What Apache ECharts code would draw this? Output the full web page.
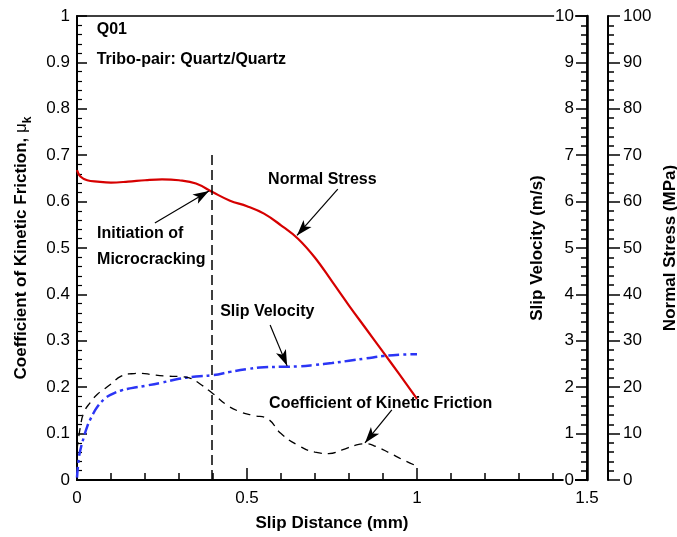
<!DOCTYPE html>
<html>
<head>
<meta charset="utf-8">
<script src="https://cdn.jsdelivr.net/npm/echarts@6/dist/echarts.min.js"></script>
<style>
html, body { margin: 0; padding: 0; background: #fff; }
#chart { width: 677px; height: 537px; }
</style>
</head>
<body>
<div id="chart"></div>
<script>
// Normal stress (MPa) against slip distance (mm)
const stressDist = [0, 0.01, 0.03, 0.06, 0.1, 0.15, 0.2, 0.25, 0.3, 0.35, 0.4, 0.45, 0.5, 0.55, 0.6, 0.65, 0.7, 0.75, 0.8, 0.85, 0.9, 0.95, 1.0];
const normalStress = [66.8, 65.4, 64.6, 64.3, 64.1, 64.3, 64.6, 64.8, 64.6, 63.9, 62.0, 60.2, 59.0, 57.4, 54.9, 52.0, 47.9, 42.8, 37.6, 32.6, 27.6, 22.6, 17.5];

// Slip velocity (m/s) against slip distance (mm)
const velDist = [0, 0.005, 0.01, 0.02, 0.03, 0.04, 0.05, 0.06, 0.08, 0.1, 0.13, 0.16, 0.2, 0.25, 0.3, 0.35, 0.4, 0.45, 0.5, 0.55, 0.6, 0.65, 0.7, 0.75, 0.8, 0.85, 0.9, 0.95, 1.0];
const slipVelocity = [0.05, 0.45, 0.65, 0.92, 1.15, 1.32, 1.46, 1.58, 1.74, 1.84, 1.93, 1.98, 2.03, 2.1, 2.18, 2.23, 2.26, 2.33, 2.39, 2.43, 2.44, 2.45, 2.48, 2.52, 2.57, 2.62, 2.67, 2.70, 2.71];

// Coefficient of kinetic friction against slip distance (mm)
const fricDist = [0, 0.01, 0.02, 0.04, 0.06, 0.08, 0.1, 0.13, 0.16, 0.19, 0.22, 0.26, 0.3, 0.33, 0.36, 0.4, 0.44, 0.48, 0.52, 0.56, 0.6, 0.65, 0.7, 0.74, 0.78, 0.82, 0.85, 0.88, 0.92, 0.96, 1.0];
const kineticFriction = [0.065, 0.115, 0.145, 0.168, 0.185, 0.196, 0.207, 0.224, 0.229, 0.23, 0.227, 0.224, 0.223, 0.22, 0.208, 0.186, 0.162, 0.147, 0.139, 0.132, 0.1, 0.075, 0.06, 0.057, 0.065, 0.075, 0.078, 0.072, 0.058, 0.043, 0.03];

// Onset of microcracking (slip distance, mm) and the height of its marker line
const crackOnset = 0.397;
const crackLineTop = 0.71;

// Callout texts, anchored in (slip distance, friction coefficient) units
const notes = [
  { text: 'Q01', at: [0.058, 0.971] },
  { text: 'Tribo-pair: Quartz/Quartz', at: [0.058, 0.905] },
  { text: 'Normal Stress', at: [0.562, 0.647] },
  { text: 'Initiation of', at: [0.059, 0.532] },
  { text: 'Microcracking', at: [0.059, 0.476] },
  { text: 'Slip Velocity', at: [0.421, 0.362] },
  { text: 'Coefficient of Kinetic Friction', at: [0.565, 0.165] }
];

// Callout arrows: [from, to] in the same units
const arrows = [
  [[0.767, 0.627], [0.647, 0.527]],
  [[0.229, 0.554], [0.388, 0.623]],
  [[0.568, 0.334], [0.618, 0.246]],
  [[0.926, 0.151], [0.847, 0.080]]
];

const FONT = '"Liberation Sans", Arial, Helvetica, sans-serif';
const zip = (xs, ys) => xs.map((x, i) => [x, ys[i]]);

const chart = echarts.init(document.getElementById('chart'));

chart.setOption({
  animation: false,
  backgroundColor: '#fff',
  grid: {
    left: 77, right: 90, top: 16, bottom: 57,
    containLabel: false, outerBoundsMode: 'none',
    show: true, borderColor: '#000', borderWidth: 1.5, backgroundColor: 'transparent'
  },
  xAxis: {
    type: 'value', min: 0, max: 1.5, interval: 0.5,
    axisLine: { show: true, onZero: false, lineStyle: { color: '#000', width: 2 } },
    axisTick: { show: true, inside: true, length: 12, lineStyle: { color: '#000', width: 1.5 } },
    minorTick: { show: true, splitNumber: 5, length: 7, lineStyle: { color: '#000', width: 1.5 } },
    axisLabel: { color: '#000', fontSize: 17, fontFamily: FONT, margin: 10 },
    splitLine: { show: false },
    name: 'Slip Distance (mm)', nameLocation: 'middle', nameGap: 35,
    nameTextStyle: { color: '#000', fontSize: 17, fontWeight: 'bold', fontFamily: FONT }
  },
  yAxis: [
    {
      type: 'value', min: 0, max: 1, interval: 0.1, position: 'left',
      axisLine: { show: true, onZero: false, lineStyle: { color: '#000', width: 2 } },
      axisTick: { show: true, inside: true, length: 10, lineStyle: { color: '#000', width: 1.5 } },
      minorTick: { show: true, splitNumber: 5, length: 5, lineStyle: { color: '#000', width: 1.2 } },
      axisLabel: { color: '#000', fontSize: 17, fontFamily: FONT, margin: 7 },
      splitLine: { show: false },
      name: 'Coefficient of Kinetic Friction, {mu|μ}{k|k}',
      nameLocation: 'middle', nameGap: 43, nameRotate: 90,
      nameTextStyle: {
        color: '#000', fontSize: 17, fontWeight: 'bold', fontFamily: FONT, lineHeight: 20,
        rich: {
          mu: { fontSize: 17, fontWeight: 'normal', fontFamily: FONT, color: '#000', lineHeight: 20 },
          k: { fontSize: 12, fontWeight: 'bold', fontFamily: FONT, color: '#000', lineHeight: 25, verticalAlign: 'bottom' }
        }
      }
    },
    {
      type: 'value', min: 0, max: 10, interval: 1, position: 'right', z: 5,
      axisLine: { show: true, onZero: false, lineStyle: { color: '#000', width: 2.5 } },
      axisTick: { show: true, inside: true, length: 11, lineStyle: { color: '#000', width: 1.5 } },
      minorTick: { show: true, splitNumber: 5, length: 6, lineStyle: { color: '#000', width: 1.5 } },
      axisLabel: {
        color: '#000', fontSize: 17, fontFamily: FONT, inside: true, margin: 12,
        backgroundColor: '#fff', padding: [0, 1]
      },
      splitLine: { show: false }
    },
    {
      type: 'value', min: 0, max: 100, interval: 10, position: 'right', offset: 21,
      axisLine: { show: true, onZero: false, lineStyle: { color: '#000', width: 2 } },
      axisTick: { show: true, inside: false, length: 12, lineStyle: { color: '#000', width: 1.5 } },
      minorTick: { show: true, splitNumber: 5, length: 6, lineStyle: { color: '#000', width: 1.5 } },
      axisLabel: { color: '#000', fontSize: 17, fontFamily: FONT, margin: 15 },
      splitLine: { show: false },
      name: 'Normal Stress (MPa)', nameLocation: 'middle', nameGap: 45, nameRotate: 90,
      nameTextStyle: { color: '#000', fontSize: 17, fontWeight: 'bold', fontFamily: FONT }
    }
  ],
  series: [
    {
      name: 'Normal Stress', type: 'line', yAxisIndex: 2, smooth: 0.4, showSymbol: false,
      data: zip(stressDist, normalStress),
      lineStyle: { color: '#d60000', width: 2.2 }, z: 3
    },
    {
      name: 'Slip Velocity', type: 'line', yAxisIndex: 1, smooth: true, showSymbol: false,
      data: zip(velDist, slipVelocity),
      lineStyle: { color: '#2b35f5', width: 2.5, type: [11, 4, 3, 4] }, z: 3
    },
    {
      name: 'Coefficient of Kinetic Friction', type: 'line', yAxisIndex: 0, smooth: true, showSymbol: false,
      data: zip(fricDist, kineticFriction),
      lineStyle: { color: '#000', width: 1.3, type: [8, 6] }, z: 3,
      markLine: {
        silent: true, animation: false,
        label: { show: false },
        emphasis: { disabled: true },
        data: [
          [
            { coord: [crackOnset, 0], symbol: 'none', lineStyle: { color: '#000', width: 1.5, type: [10, 5] } },
            { coord: [crackOnset, crackLineTop], symbol: 'none' }
          ]
        ].concat(arrows.map(([from, to]) => [
          { coord: from, symbol: 'none', lineStyle: { color: '#000', width: 1.2, type: 'solid' } },
          { coord: to, symbol: 'arrow', symbolSize: [8, 16] }
        ]))
      }
    }
  ]
});

// Callout texts and the inner title of the velocity axis, placed through the grid's coordinates
const velAxisX = chart.convertToPixel({ xAxisIndex: 0 }, 1.5);
const midY = chart.convertToPixel({ yAxisIndex: 0 }, 0.5);

chart.setOption({
  graphic: notes.map(n => {
    const p = chart.convertToPixel({ xAxisIndex: 0, yAxisIndex: 0 }, n.at);
    return {
      type: 'text', x: p[0], y: p[1], z: 10, silent: true,
      style: {
        text: n.text, fill: '#000', font: 'bold 16px ' + FONT,
        align: 'left', verticalAlign: 'middle'
      }
    };
  }).concat([{
    type: 'text', x: velAxisX - 50, y: midY, rotation: Math.PI / 2, z: 10, silent: true,
    style: {
      text: 'Slip Velocity (m/s)', fill: '#000', font: 'bold 17px ' + FONT,
      align: 'center', verticalAlign: 'middle'
    }
  }])
});
</script>
</body>
</html>
